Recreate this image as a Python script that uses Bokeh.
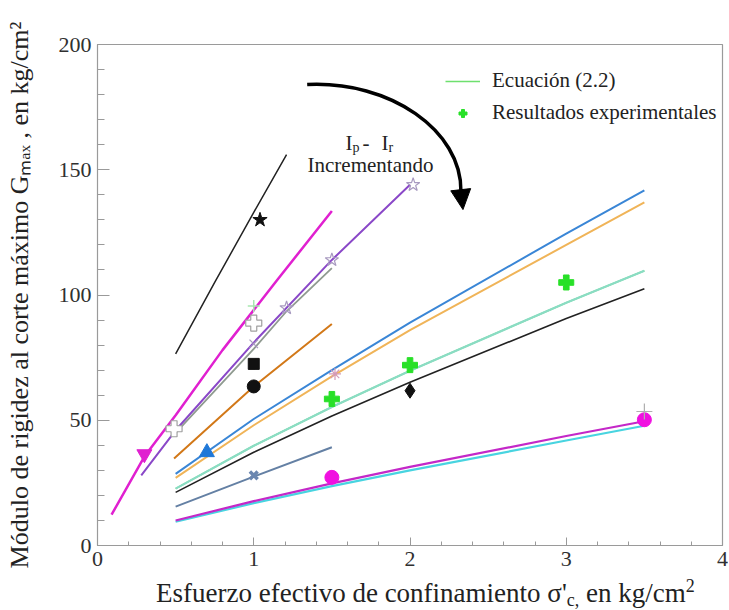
import numpy as np
from bokeh.plotting import figure
from bokeh.layouts import column
from bokeh.models import (Label, Legend, LegendItem, SingleIntervalTicker,
                          Arrow, NormalHead, Div)
from bokeh.embed import file_html
from bokeh.resources import INLINE

# ---------------- data ----------------
x_blk_steep = [0.5, 0.75, 1.0, 1.21]
y_blk_steep = [76.5, 105, 133, 156]

x_mag_up = [0.09, 0.3, 0.5, 0.8, 1.15, 1.5]
y_mag_up = [12.3, 35.5, 52, 78, 106, 133.5]

x_purple = [0.28, 0.5, 1.0, 1.5, 2.0]
y_purple = [28, 46, 81, 114, 144]

x_gray = [0.5, 1.0, 1.21, 1.5]
y_gray = [45, 78.5, 93.5, 110.7]

x_dkorange = [0.49, 1.0, 1.5]
y_dkorange = [34.7, 63.5, 88.4]

x_long = [0.5, 1.0, 1.5, 2.0, 3.0, 3.5]
y_blue = [28.6, 50.5, 70, 89, 124.5, 141.8]
y_gold = [27, 48, 67.5, 86, 120, 137]
y_teal = [22.7, 39.8, 55.3, 69.8, 96.9, 109.7]
y_blk_low = [21.2, 37.2, 51.7, 65.2, 90.6, 102.5]
y_mag_low = [10, 17.7, 24.8, 31.4, 43.7, 49.6]
y_cyan = [9.5, 16.9, 23.7, 30, 41.9, 47.8]

x_slate = [0.5, 1.0, 1.5]
y_slate = [15.5, 27.5, 39.2]

# experimental points
x_exp = [1.5, 2.0, 3.0]
y_exp = [58.5, 72, 105]

star_blk = ([1.04], [130])
tri_mag = ([0.3], [36.5])
open_plus = ([0.49, 1.0], [46.6, 88.8])
sq_blk = ([1.0], [72.5])
circ_blk = ([1.0], [63.5])
tri_blue = ([0.7], [37.2])
hour_slate = ([1.0], [28])
diam_blk = ([2.0], [61.8])
circ_mag = ([1.5, 3.5], [27.2, 50.2])
star_open = ([1.21, 1.5, 2.02], [94.8, 114, 144])
x_gray_pt = ([1.0], [80.5])
x_pink_pt = ([1.52], [68.5])
plus_gray = ([3.5], [53.5])
mark_green = ([1.0], [95.6])

x_ticks_interval = 1
y_ticks_interval = 50

FONT = "Liberation Serif"

# page -> frame screen units (frame left=97, bottom=545 on page)
FL, FB = 97, 545
def sx(px):
    return px - FL
def sy(py):
    return FB - py

p = figure(x_range=(0, 4), y_range=(0, 200), frame_width=625, frame_height=501,
           output_backend="svg", toolbar_location=None,
           min_border_left=97, min_border_top=44, min_border_bottom=35,
           min_border_right=6, background_fill_color="white",
           border_fill_color="white", margin=(0, 0, 0, 0))
p.grid.visible = False
p.outline_line_color = "#9a9a9a"
p.outline_line_width = 1.2

p.xaxis.ticker = SingleIntervalTicker(interval=x_ticks_interval, num_minor_ticks=5)
p.yaxis.ticker = SingleIntervalTicker(interval=y_ticks_interval, num_minor_ticks=5)
for ax in (p.xaxis, p.yaxis):
    ax.axis_line_color = "#9a9a9a"
    ax.major_tick_line_color = "#9a9a9a"
    ax.minor_tick_line_color = "#9a9a9a"
    ax.major_tick_out = 0
    ax.minor_tick_out = 0
    ax.major_label_text_font = FONT
    ax.major_label_text_font_size = "22px"
    ax.major_label_text_color = "#303030"
    ax.major_label_standoff = 6
p.yaxis.major_tick_in = 12
p.yaxis.minor_tick_in = 7
p.xaxis.major_tick_in = 8
p.xaxis.minor_tick_in = 4

p.yaxis.axis_label = "Módulo de rigidez al corte máximo Gₘₐₓ , en kg/cm²"
p.yaxis.axis_label_text_font = FONT
p.yaxis.axis_label_text_font_size = "26px"
p.yaxis.axis_label_text_font_style = "normal"
p.yaxis.axis_label_text_color = "#222222"
p.yaxis.axis_label_standoff = 22

# ---------------- curves ----------------
p.line(x_blk_steep, y_blk_steep, color="#222222", line_width=1.5)
p.line(x_mag_up, y_mag_up, color="#e020d0", line_width=2.5)
p.line(x_purple, y_purple, color="#8a48c8", line_width=2)
p.line(x_gray, y_gray, color="#8f9a90", line_width=1.8)
p.line(x_dkorange, y_dkorange, color="#d27818", line_width=2)
p.line(x_long, y_blue, color="#3a86d6", line_width=2)
p.line(x_long, y_gold, color="#f0b458", line_width=2)
eq_line = p.line(x_long, y_teal, color="#6ee06e", line_width=1.6)
p.line(x_long, y_teal, color="#8adcc4", line_width=2.2)
p.line(x_long, y_blk_low, color="#222222", line_width=1.6)
p.line(x_slate, y_slate, color="#6480a4", line_width=2)
p.line(x_long, y_cyan, color="#48d4e0", line_width=2.2)
p.line(x_long, y_mag_low, color="#c428c8", line_width=2.2)

# ---------------- markers ----------------
p.scatter(*star_blk, marker="star", size=15, color="#111111")
p.scatter(*tri_mag, marker="inverted_triangle", size=15, color="#e020d0")
p.scatter(*open_plus, marker="plus", size=16, fill_color="white",
          line_color="#a0a0a0", line_width=1.2)
p.scatter(*mark_green, marker="cross", size=12, line_color="#a8e8b0",
          line_width=1.5)
p.scatter(*sq_blk, marker="square", size=11, color="#111111")
p.scatter(*circ_blk, marker="circle", size=13, color="#111111")
p.scatter(*tri_blue, marker="triangle", size=15, color="#1f78d8")
p.scatter(*hour_slate, marker="x", size=11, line_color="#6a86b0", line_width=3.5)
green = p.scatter(x_exp, y_exp, marker="plus", size=15, color="#28e028")
p.scatter(*diam_blk, marker="diamond", size=15, color="#111111")
p.scatter(*circ_mag, marker="circle", size=14, color="#f010e0")
p.scatter(*star_open, marker="star", size=14, fill_color=None,
          line_color="#a89ac0", line_width=1.2)
p.scatter(*x_gray_pt, marker="x", size=12, line_color="#a89ac0", line_width=1.3)
p.scatter(*x_pink_pt, marker="asterisk", size=12, line_color="#d49ab8", line_width=1.2)
p.scatter(*plus_gray, marker="cross", size=16, line_color="#b0b0b0", line_width=1.2)

# ---------------- legend ----------------
legend = Legend(items=[LegendItem(label="Ecuación (2.2)", renderers=[eq_line]),
                       LegendItem(label="Resultados experimentales", renderers=[green])],
                location=(348, 420), padding=0, margin=0, spacing=7,
                glyph_width=35, glyph_height=20, label_height=20,
                label_standoff=12, border_line_alpha=0, background_fill_alpha=0,
                label_text_font=FONT, label_text_font_size="21px",
                label_text_color="#222222")
p.add_layout(legend)

# ---------------- curved arrow ----------------
p.bezier(x0=[1.342], y0=[184.0], x1=[2.326], y1=[141.3],
         cx0=[1.872], cy0=[185.6], cx1=[2.332], cy1=[165.7],
         line_color="black", line_width=3.5)
p.add_layout(Arrow(end=NormalHead(size=20, fill_color="black", line_color="black"),
                   x_start=2.326, y_start=141.3, x_end=2.339, y_end=134.1,
                   line_color="black", line_width=3))

def lab(text, px, py, size, align="left", color="#222222"):
    p.add_layout(Label(x=sx(px), y=sy(py), x_units="screen", y_units="screen",
                       text=text, text_font=FONT, text_font_size=f"{size}px",
                       text_align=align, text_baseline="alphabetic",
                       text_color=color))

# annotation "Ip - Ir  Incrementando"
lab("I", 345, 142, 21)
lab("p", 352, 147, 14)
lab("-", 362, 142, 21)
lab("I", 381, 142, 21)
lab("r", 388, 147, 14)
lab("Incrementando", 370, 164, 21, align="center")

# x axis title (HTML, for the sub/superscripts)
xlabel_html = ("Esfuerzo efectivo de confinamiento σ'"
               "<span style='font-size:18px;position:relative;top:4px'>c,</span>"
               " en kg/cm"
               "<span style='font-size:18px;position:relative;top:-10px'>2</span>")
xtitle = Div(text=xlabel_html, width=700, height=28, margin=(0, 0, 0, 0),
             styles={"font-family": "'Liberation Serif', serif",
                     "font-size": "27px", "line-height": "27px",
                     "color": "#222222", "white-space": "nowrap",
                     "box-sizing": "border-box", "overflow": "visible",
                     "padding-left": "156px"})

layout = column(p, xtitle, spacing=0)
open("out.html", "w").write(file_html(layout, INLINE))
